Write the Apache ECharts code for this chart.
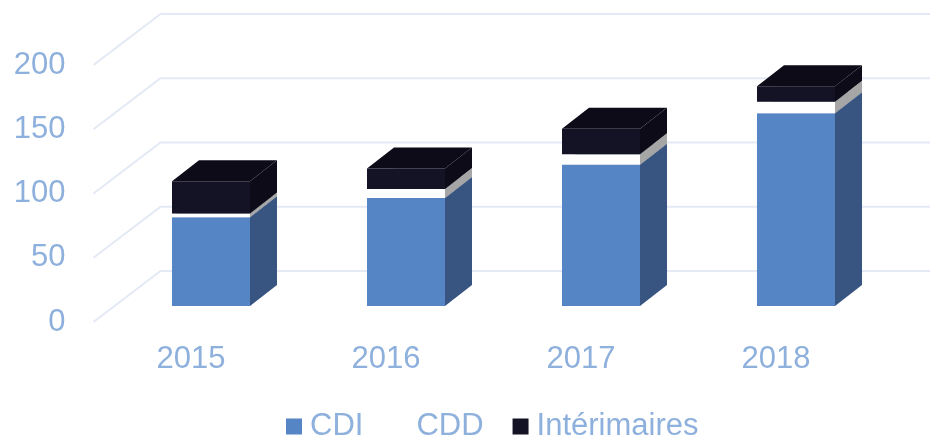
<!DOCTYPE html>
<html>
<head>
<meta charset="utf-8">
<style>
  html, body { margin: 0; padding: 0; background: #fff; }
  #chart { width: 930px; height: 436px; }
</style>
</head>
<body>
<div id="chart"></div>
<script src="https://cdn.jsdelivr.net/npm/echarts@6/dist/echarts.min.js"></script>
<script>
const years = ['2015', '2016', '2017', '2018']
const cdi = [69, 84, 110, 150]
const cdd = [3, 7, 8, 9]
const interim = [25, 16, 20, 12]
const yTicks = [0, 50, 100, 150, 200]

// 3D look: pixel shifts from the front plane of the axes
const WALL = [67, -51]      // back wall
const BAR_SHIFT = [20, -16] // front face of the bars
const BAR_DEPTH = [27, -21]
const BAR_WIDTH = 78

const LABEL = '#8eb0dc'
const FONT = '"Liberation Sans", Arial, sans-serif'

// [category index, bottom, top] for one stacked segment
function segments(values, below) {
  return values.map((v, i) => {
    const base = below.reduce((sum, arr) => sum + arr[i], 0)
    return [i, base, base + v]
  })
}

function barItem(colors) {
  return (params, api) => {
    const bottom = api.coord([api.value(0), api.value(1)])
    const top = api.coord([api.value(0), api.value(2)])
    const x0 = bottom[0] + BAR_SHIFT[0] - BAR_WIDTH / 2
    const x1 = x0 + BAR_WIDTH
    const y0 = bottom[1] + BAR_SHIFT[1]
    const y1 = top[1] + BAR_SHIFT[1]
    const dx = BAR_DEPTH[0]
    const dy = BAR_DEPTH[1]
    const poly = (points, fill) => ({ type: 'polygon', shape: { points }, style: { fill } })
    return {
      type: 'group',
      children: [
        poly([[x1, y0], [x1 + dx, y0 + dy], [x1 + dx, y1 + dy], [x1, y1]], colors.side),
        poly([[x0, y1], [x1, y1], [x1 + dx, y1 + dy], [x0 + dx, y1 + dy]], colors.top),
        poly([[x0, y0], [x1, y0], [x1, y1], [x0, y1]], colors.front),
      ],
    }
  }
}

function wallItem(params, api) {
  const y = api.coord([0, api.value(0)])[1]
  const left = params.coordSys.x
  const right = left + params.coordSys.width
  return {
    type: 'polyline',
    shape: { points: [[left, y], [left + WALL[0], y + WALL[1]], [right + WALL[0], y + WALL[1]]] },
    style: { fill: 'none', stroke: '#e3e9f5', lineWidth: 2 },
  }
}

const chart = echarts.init(document.getElementById('chart'))
chart.setOption({
  animation: false,
  grid: { left: 93.5, top: 65, width: 780, height: 257 },
  legend: {
    left: 281,
    top: 406,
    itemWidth: 16,
    itemHeight: 16,
    itemGap: 29,
    icon: 'rect',
    textStyle: { color: LABEL, fontSize: 31, fontFamily: FONT, padding: [0, 0, 0, 3] },
    data: ['CDI', 'CDD', 'Intérimaires'],
  },
  xAxis: {
    type: 'category',
    data: years,
    axisLine: { show: false },
    axisTick: { show: false },
    axisLabel: { color: LABEL, fontSize: 31, fontFamily: FONT, margin: 22 },
  },
  yAxis: {
    type: 'value',
    min: 0,
    max: 200,
    interval: 50,
    axisLine: { show: false },
    axisTick: { show: false },
    splitLine: { show: false },
    axisLabel: { color: LABEL, fontSize: 31, fontFamily: FONT, margin: 28 },
  },
  series: [
    {
      type: 'custom',
      name: 'wall',
      silent: true,
      z: 1,
      renderItem: wallItem,
      encode: { y: 0 },
      data: yTicks.map(v => [v]),
    },
    {
      type: 'custom',
      name: 'CDI',
      z: 2,
      itemStyle: { color: '#5585c5' },
      renderItem: barItem({ front: '#5585c5', side: '#385582', top: '#385582' }),
      encode: { x: 0, y: [1, 2] },
      data: segments(cdi, []),
    },
    {
      type: 'custom',
      name: 'CDD',
      z: 3,
      itemStyle: { color: '#ffffff' },
      renderItem: barItem({ front: '#ffffff', side: '#a6a6a6', top: '#d9d9d9' }),
      encode: { x: 0, y: [1, 2] },
      data: segments(cdd, [cdi]),
    },
    {
      type: 'custom',
      name: 'Intérimaires',
      z: 4,
      itemStyle: { color: '#141326' },
      renderItem: barItem({ front: '#141326', side: '#0d0b18', top: '#0d0b18' }),
      encode: { x: 0, y: [1, 2] },
      data: segments(interim, [cdi, cdd]),
    },
  ],
})
</script>
</body>
</html>
